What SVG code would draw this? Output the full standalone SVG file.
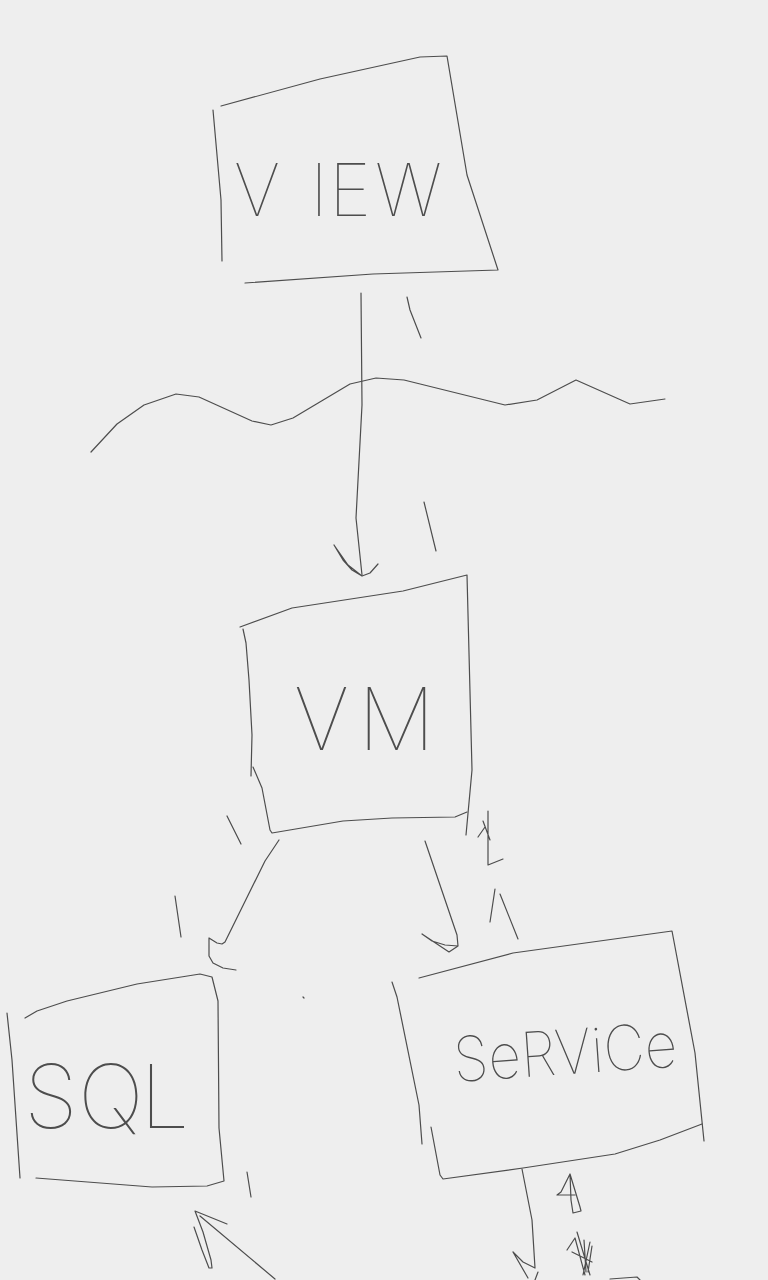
<svg xmlns="http://www.w3.org/2000/svg" width="768" height="1280" viewBox="0 0 768 1280">
<style>
.s{fill:none;stroke:#4d4d4d;stroke-width:1.2;stroke-linecap:round;stroke-linejoin:round}
.t{font-family:Inter,"Liberation Sans",sans-serif;font-weight:100;fill:#4d4d4d}
</style>
<rect width="768" height="1280" fill="#eeeeee"/>
<g id="view">
<path class="s" d="M221,106 L320,79 L420,57 L447,56 L467,175 L498,270 L373,274 L245,283"/>
<path class="s" d="M213,110 L221,200 L222,261"/>
<text class="t" x="234 310 329 375" y="216" font-size="72">VIEW</text>
</g>
<g id="wave">
<path class="s" d="M91,452 L117,424 L144,405 L176,394 L199,397 L252,421 L271,425 L293,418 L350,384 L376,378 L404,380 L505,405 L537,400 L576,380 L630,404 L665,399"/>
</g>
<g id="vm">
<path class="s" d="M240,627 L292,608 L403,591 L467,575 L472,770 L466,835"/>
<path class="s" d="M467,812 L455,817 L392,818 L343,821 L272,833 L270,830 L262,788 L253,767"/>
<path class="s" d="M243,629 L246,643 L249,680 L252,735 L251,776"/>
<text class="t" x="294 358" y="750" font-size="86">VM</text>
</g>
<g id="sql">
<path class="s" d="M25,1018 L37,1011 L67,1001 L137,984 L200,974 L212,977 L218,1001 L219,1128 L224,1181 L207,1186 L152,1187 L36,1178"/>
<path class="s" d="M7,1013 L12,1060 L20,1178"/>
<text class="t" x="24 78 140" y="1128" font-size="88">SQL</text>
</g>
<g id="service">
<path class="s" d="M419,978 L513,953 L672,931 L695,1053 L704,1141"/>
<path class="s" d="M702,1124 L660,1140 L615,1154 L523,1168 L443,1179 L440,1175 L431,1127"/>
<path class="s" d="M392,982 L397,997 L419,1105 L422,1144"/>
<text class="t" x="455" y="1082" font-size="62" textLength="224" lengthAdjust="spacingAndGlyphs" transform="rotate(-4 455 1082)">SeRViCe</text>
</g>
<g id="connectors">
<path class="s" d="M361,293 L362,405 L356,518 L362,575"/>
<path class="s" d="M334,545 L343,560 L352,570 L362,576 L348,565 L334,545 M362,576 L370,573 L378,564"/>
<path class="s" d="M407,297 L410,310 L421,338"/>
<path class="s" d="M424,502 L436,551"/>
<path class="s" d="M227,816 L241,844"/>
<path class="s" d="M279,840 L265,861 L225,942 L222,944 L217,943 L209,938 L209,956 L213,963 L223,968 L236,970"/>
<path class="s" d="M175,896 L181,937"/>
<path class="s" d="M425,841 L457,935 L458,946 L449,952 L422,934 L432,941 L445,945 L458,946"/>
<path class="s" d="M488,811 L488,865 L503,859 M483,821 L490,840 M478,837 L485,827"/>
<path class="s" d="M495,889 L490,922"/>
<path class="s" d="M500,894 L518,939"/>
<path class="s" d="M303,997 L304,998"/>
<path class="s" d="M247,1172 L251,1197"/>
<path class="s" d="M275,1279 L200,1216"/>
<path class="s" d="M227,1224 L195,1211 L203,1232 L211,1260 L212,1268 L209,1268 L202,1250 L194,1227"/>
<path class="s" d="M522,1169 L532,1220 L535,1268 M513,1252 L523,1262 L535,1268 M513,1252 L528,1278 M538,1272 L535,1280"/>
<path class="s" d="M570,1174 L561,1192 L557,1195 M570,1174 L580,1207 L581,1211 L573,1213 L571,1200 L570,1174 M557,1195 L575,1195"/>
<path class="s" d="M567,1250 L575,1238 L585,1275 M577,1232 L590,1275 M584,1240 L586,1272 M590,1242 L583,1275 M592,1246 L588,1272 M572,1252 L592,1262"/>
<path class="s" d="M610,1279 L637,1277 L640,1280"/>
</g>
</svg>
